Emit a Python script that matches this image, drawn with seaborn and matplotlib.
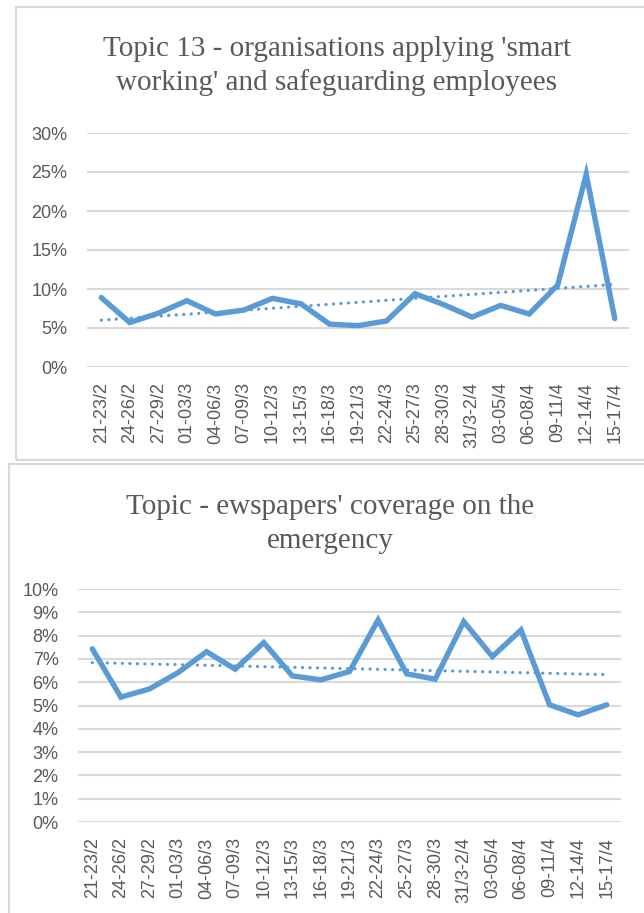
import numpy as np
import pandas as pd
import matplotlib.pyplot as plt
import matplotlib.patches as patches
from matplotlib.ticker import PercentFormatter, MultipleLocator
import seaborn as sns

periods = ["21-23/2", "24-26/2", "27-29/2", "01-03/3", "04-06/3", "07-09/3",
           "10-12/3", "13-15/3", "16-18/3", "19-21/3", "22-24/3", "25-27/3",
           "28-30/3", "31/3-2/4", "03-05/4", "06-08/4", "09-11/4", "12-14/4",
           "15-17/4"]

# topic 13 share (fraction)
topic13 = [0.089, 0.057, 0.069, 0.085, 0.068, 0.073, 0.088, 0.081, 0.055, 0.053,
           0.059, 0.094, 0.080, 0.064, 0.079, 0.068, 0.105, 0.247, 0.062]

# newspapers coverage share (fraction)
coverage = [0.0743, 0.0536, 0.0571, 0.0641, 0.0731, 0.0656, 0.0770, 0.0627,
            0.0610, 0.0646, 0.0867, 0.0636, 0.0613, 0.0860, 0.0710, 0.0824,
            0.0503, 0.0460, 0.0503]

title_top = "Topic 13 - organisations applying 'smart\nworking' and safeguarding employees"
title_bottom = "Topic - ewspapers' coverage on the\nemergency"

blue = "#5B9BD5"
grey_text = "#595959"
grid_col = "#D9D9D9"

sns.set_style("white")
plt.rcParams["font.family"] = ["Liberation Sans Narrow", "Liberation Sans", "DejaVu Sans"]

W, H = 644, 913
fig = plt.figure(figsize=(W / 100, H / 100), dpi=100)


def px_axes(left, right, top, bottom):
    return fig.add_axes([left / W, 1 - bottom / H, (right - left) / W, (bottom - top) / H])


def draw_panel(ax, values, ymax, step, pad_y):
    df = pd.DataFrame({"x": np.arange(len(periods)), "y": values})
    k, b = np.polyfit(df["x"], df["y"], 1)
    df["trend"] = k * df["x"] + b

    sns.lineplot(data=df, x="x", y="trend", ax=ax, color=blue, lw=2.3,
                 linestyle=(0, (0.05, 2.3)), dash_capstyle="round")
    sns.lineplot(data=df, x="x", y="y", ax=ax, color=blue, lw=3.9,
                 solid_joinstyle="miter", solid_capstyle="round")

    ax.set_xlim(-0.5, len(periods) - 0.5)
    ax.set_ylim(0, ymax)
    ax.yaxis.set_major_locator(MultipleLocator(step))
    ax.yaxis.set_major_formatter(PercentFormatter(1.0, decimals=0))
    ax.set_xticks(range(len(periods)))
    ax.set_xticklabels(periods, rotation=90)
    ax.set_xlabel("")
    ax.set_ylabel("")
    ax.grid(axis="y", color=grid_col, lw=1.5)
    ax.set_axisbelow(True)
    sns.despine(ax=ax, left=True, bottom=True)
    ax.tick_params(axis="both", length=0, labelsize=13, labelcolor=grey_text)
    ax.tick_params(axis="y", pad=pad_y)
    ax.tick_params(axis="x", pad=11)


# panel borders
fig.patches.append(patches.Rectangle((16 / W, 1 - 460 / H), 700 / W, 453 / H,
                                     transform=fig.transFigure, fill=False,
                                     edgecolor=grid_col, lw=1.5))
fig.patches.append(patches.Rectangle((9 / W, -0.1), 700 / W, (913 - 464) / H + 0.1,
                                     transform=fig.transFigure, fill=False,
                                     edgecolor=grid_col, lw=1.5))

ax1 = px_axes(87, 629, 133, 367)
draw_panel(ax1, topic13, 0.30, 0.05, 14)
ax2 = px_axes(78, 621, 589, 822)
draw_panel(ax2, coverage, 0.10, 0.01, 14)

fig.text(337 / W, 1 - 66 / H, title_top, ha="center", va="center",
         family="Liberation Serif", fontsize=21, color=grey_text, linespacing=1.38)
fig.text(330 / W, 1 - 524 / H, title_bottom, ha="center", va="center",
         family="Liberation Serif", fontsize=21, color=grey_text, linespacing=1.38)

fig.savefig("out.png", dpi=100)
